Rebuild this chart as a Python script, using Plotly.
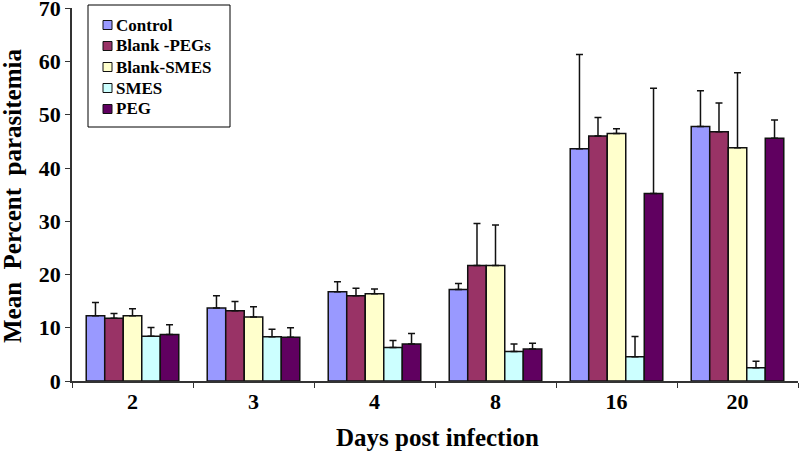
import plotly.graph_objects as go

days = ["2", "3", "4", "8", "16", "20"]
series_names = ["Control", "Blank -PEGs", "Blank-SMES", "SMES", "PEG"]
control = [12.25, 13.7, 16.75, 17.2, 43.6, 47.8]
control_err = [2.5, 2.3, 1.9, 1.1, 17.7, 6.7]
blank_pegs = [11.8, 13.2, 16.0, 21.7, 46.0, 46.8]
blank_pegs_err = [0.9, 1.75, 1.4, 7.9, 3.5, 5.4]
blank_smes = [12.25, 12.0, 16.4, 21.7, 46.5, 43.8]
blank_smes_err = [1.3, 1.95, 0.9, 7.6, 0.85, 14.1]
smes = [8.4, 8.3, 6.3, 5.55, 4.55, 2.5]
smes_err = [1.65, 1.4, 1.3, 1.4, 3.8, 1.2]
peg = [8.75, 8.2, 6.95, 6.0, 35.2, 45.6]
peg_err = [1.8, 1.8, 1.95, 1.1, 19.8, 3.4]
y_ticks = [0, 10, 20, 30, 40, 50, 60, 70]
x_title = "Days post infection"
y_title = "Mean  Percent  parasitemia"

values = [control, blank_pegs, blank_smes, smes, peg]
errors = [control_err, blank_pegs_err, blank_smes_err, smes_err, peg_err]
colors = ["#9999FF", "#993366", "#FFFFCC", "#CCFFFF", "#600060"]

W, H = 799, 454
ML, MR, MT, MB = 72, 1, 8, 73
pw, ph = W - ML - MR, H - MT - MB

def px_x(x):
    return (x - ML) / pw

def px_y(y):
    return (H - MB - y) / ph

font = "Liberation Serif, Times New Roman, serif"
fig = go.Figure()
for name, v, e, c in zip(series_names, values, errors, colors):
    fig.add_trace(go.Bar(
        name=name, x=days, y=v, showlegend=False,
        marker=dict(color=c, line=dict(color="#111111", width=1.5)),
        error_y=dict(type="data", array=e, arrayminus=[0] * len(e),
                     symmetric=False, color="#111111", thickness=1.5, width=3.5),
    ))

# legend box drawn manually (compact row spacing like the original)
shapes = [dict(type="rect", xref="paper", yref="paper",
               x0=px_x(88), x1=px_x(230), y0=px_y(127), y1=px_y(5),
               line=dict(color="black", width=1), fillcolor="white", layer="above")]
annotations = []
row_y = [25, 46, 67, 88, 109]
for name, c, ry in zip(series_names, colors, row_y):
    shapes.append(dict(type="rect", xref="paper", yref="paper",
                       x0=px_x(103), x1=px_x(112), y0=px_y(ry + 4.5), y1=px_y(ry - 4.5),
                       line=dict(color="#111111", width=1), fillcolor=c, layer="above"))
    annotations.append(dict(xref="paper", yref="paper", x=px_x(114), y=px_y(ry),
                            xanchor="left", yanchor="middle", showarrow=False, text=name,
                            font=dict(family=font, size=17, color="black", weight="bold")))

annotations.append(dict(xref="paper", yref="paper", x=px_x(437), y=px_y(438),
                        xanchor="center", yanchor="middle", showarrow=False, text=x_title,
                        font=dict(family=font, size=25, color="black", weight="bold")))
annotations.append(dict(xref="paper", yref="paper", x=px_x(12), y=px_y(196),
                        xanchor="center", yanchor="middle", showarrow=False, text=y_title,
                        textangle=-90,
                        font=dict(family=font, size=25, color="black", weight="bold")))

fig.update_layout(
    width=W, height=H,
    barmode="group", bargap=0.235, bargroupgap=0,
    paper_bgcolor="white", plot_bgcolor="white",
    margin=dict(l=ML, r=MR, t=MT, b=MB, autoexpand=False),
    font=dict(family=font, color="black"),
    shapes=shapes, annotations=annotations,
    showlegend=False,
)
fig.update_xaxes(
    type="category", showline=True, linecolor="#333333", linewidth=1.5,
    ticks="outside", tickson="boundaries", ticklen=5, tickcolor="#333333",
    tickfont=dict(family=font, size=22, weight="bold"),
    showgrid=False, automargin=False,
)
fig.update_yaxes(
    range=[0, 70.05], tickvals=y_ticks, showline=True, linecolor="#333333", linewidth=1.5,
    ticks="outside", ticklen=5, tickcolor="#333333",
    tickfont=dict(family=font, size=22, weight="bold"), ticklabeloverflow="allow",
    showgrid=False, zeroline=False, automargin=False,
)
fig.write_html("out.html", config={"displayModeBar": False},
               post_script="document.body.style.margin='0';document.body.style.overflow='hidden';")
